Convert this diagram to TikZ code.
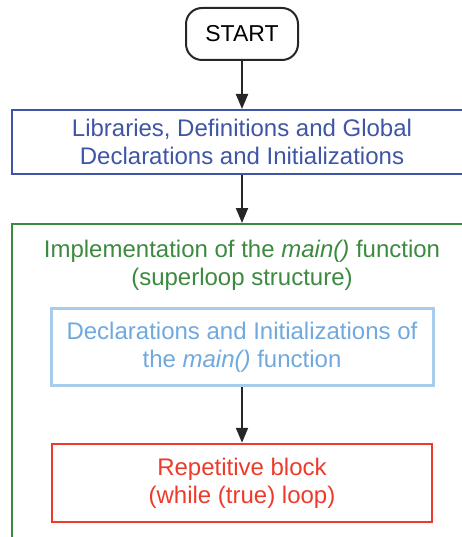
\documentclass[tikz,border=0pt]{standalone}
\usepackage{fontspec}
\setmainfont{Liberation Sans}
\usetikzlibrary{arrows.meta}
\definecolor{libblue}{HTML}{3F55A5}
\definecolor{implgreen}{HTML}{3C8A40}
\definecolor{declblue}{HTML}{A8CDEC}
\definecolor{decltext}{HTML}{6FA9DE}
\definecolor{repred}{HTML}{EE3A2B}
\tikzset{
  box/.style={draw, line width=2pt, align=center, inner sep=0pt,
    font=\fontsize{24}{28}\selectfont},
  flow/.style={-{Triangle[length=15pt,width=12pt]}, line width=2pt, black!85},
}

\begin{document}
\begin{tikzpicture}[x=1pt,y=-1pt]
    \useasboundingbox (0,0) rectangle (462,537);
    % Start terminal
    \node[box, black!85, text=black, rounded corners=16pt, font=\fontsize{23}{28}\selectfont,
      minimum width=112pt, minimum height=52pt] (start) at (242,34) {START};
    % Global part
    \node[box, libblue, minimum width=460pt, minimum height=64pt] (libs) at (242,142)
      {Libraries, Definitions and Global\\Declarations and Initializations};
    % Frame of the main() function
    \node[box, implgreen, anchor=north, minimum width=460pt, minimum height=340pt] (impl) at (242,223) {};
    \node[align=center, implgreen, font=\fontsize{24}{28}\selectfont] (impltitle) at (242,265)
      {Implementation of the \textit{main()} function\\(superloop structure)};
    % Inner blocks
    \node[box, draw=declblue, text=decltext, line width=3pt,
      minimum width=382pt, minimum height=77pt] (decl) at (242,347)
      {Declarations and Initializations of\\the \textit{main()} function};
    \node[box, repred, line width=2.5pt, minimum width=380pt, minimum height=78pt] (rep) at (242,483)
      {Repetitive block\\(while (true) loop)};
    % Connectors
    \draw[flow] (start.south) -- (libs.north);
    \draw[flow] (libs.south) -- (impl.north);
    \draw[flow] (decl.south) -- (rep.north);
\end{tikzpicture}
\end{document}
